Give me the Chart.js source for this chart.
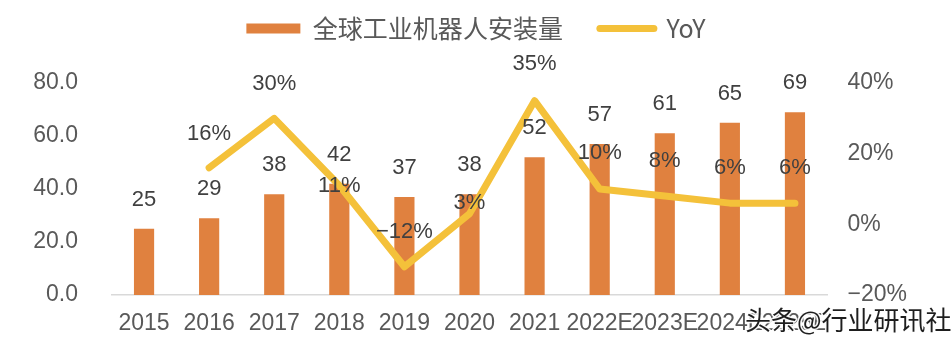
<!DOCTYPE html>
<html>
<head>
<meta charset="utf-8">
<script src="https://cdn.jsdelivr.net/npm/chart.js@4/dist/chart.umd.min.js"></script>
<style>
  html, body { margin: 0; padding: 0; background: #ffffff; }
  #wrap { width: 952px; height: 345px; position: relative; }
</style>
</head>
<body>
<div id="wrap"><canvas id="c" width="952" height="345"></canvas></div>
<script>
// ---- data ----
const categories = ['2015','2016','2017','2018','2019','2020','2021','2022E','2023E','2024E','2025E'];
const installs = [25, 29, 38, 42, 37, 38, 52, 57, 61, 65, 69];
const yoyPct = [null, 16, 30, 11, -12, 3, 35, 10, 8, 6, 6];
const leftTicks = [0, 20, 40, 60, 80];
const rightTicks = [-20, 0, 20, 40];
const seriesNames = ['全球工业机器人安装量', 'YoY'];
const watermark = '头条@行业研讯社';

// ---- style ----
const BAR_COLOR = '#E0813F';
const LINE_COLOR = '#F4C13A';
const TICK_COLOR = '#595959';
const LABEL_COLOR = '#404040';
const yoyLabelLift = [0, 34, 34, 0, 35, 11, 37, 36, 35, 35, 35];

const fmtPct = v => (v < 0 ? '\u2212' : '') + Math.abs(v) + '%';

const labelPlugin = {
  id: 'valueLabels',
  afterDatasetsDraw(chart) {
    const ctx = chart.ctx;
    ctx.save();
    ctx.font = '22px "Liberation Sans", Arial, sans-serif';
    ctx.fillStyle = LABEL_COLOR;
    ctx.textAlign = 'center';
    ctx.textBaseline = 'middle';
    const barMeta = chart.getDatasetMeta(0);
    barMeta.data.forEach((el, i) => {
      ctx.fillText(String(installs[i]), el.x, el.y - 29);
    });
    const lineMeta = chart.getDatasetMeta(1);
    lineMeta.data.forEach((el, i) => {
      if (yoyPct[i] === null) return;
      ctx.fillText(fmtPct(yoyPct[i]), el.x, el.y - yoyLabelLift[i]);
    });
    ctx.restore();
  },
  afterDraw(chart) {
    const ctx = chart.ctx;
    ctx.save();
    ctx.font = '26px "Noto Sans CJK SC", sans-serif';
    ctx.textAlign = 'left';
    ctx.textBaseline = 'middle';
    ctx.lineWidth = 3;
    ctx.strokeStyle = 'rgba(255,255,255,0.9)';
    ctx.lineJoin = 'round';
    ctx.strokeText(watermark, 745, 320);
    ctx.fillStyle = '#1e1e1e';
    ctx.fillText(watermark, 745, 320);
    ctx.restore();
  }
};

new Chart(document.getElementById('c'), {
  data: {
    labels: categories,
    datasets: [
      {
        type: 'bar',
        label: seriesNames[0],
        data: installs,
        backgroundColor: BAR_COLOR,
        yAxisID: 'y',
        barPercentage: 0.31,
        categoryPercentage: 1.0,
        order: 1
      },
      {
        type: 'line',
        label: seriesNames[1],
        data: yoyPct,
        borderColor: LINE_COLOR,
        backgroundColor: LINE_COLOR,
        borderWidth: 7,
        borderCapStyle: 'round',
        borderJoinStyle: 'round',
        pointRadius: 0,
        tension: 0,
        yAxisID: 'y1',
        order: 0
      }
    ]
  },
  options: {
    responsive: false,
    animation: false,
    devicePixelRatio: 1,
    layout: { padding: { top: -21, left: 0, right: 0, bottom: 0 } },
    plugins: {
      tooltip: { enabled: false },
      title: {
        display: true,
        text: '',
        position: 'top',
        weight: 500,
        padding: { top: 22, bottom: 0 },
        font: { size: 10, lineHeight: 1 }
      },
      legend: {
        position: 'top',
        labels: {
          padding: 37,
          usePointStyle: true,
          pointStyleWidth: 54,
          boxHeight: 10,
          color: TICK_COLOR,
          font: { family: '"Noto Sans CJK SC", sans-serif', size: 25 },
          generateLabels(chart) {
            return [
              { text: seriesNames[0], fillStyle: BAR_COLOR, strokeStyle: BAR_COLOR, lineWidth: 0,
                pointStyle: 'rect', fontColor: TICK_COLOR, datasetIndex: 0, hidden: false },
              { text: seriesNames[1], fillStyle: LINE_COLOR, strokeStyle: LINE_COLOR, lineWidth: 7,
                lineCap: 'round', pointStyle: 'line', fontColor: TICK_COLOR, datasetIndex: 1, hidden: false }
            ];
          }
        }
      }
    },
    scales: {
      x: {
        offset: true,
        grid: { display: false, drawTicks: false },
        border: { display: true, color: '#D9D9D9', width: 1.5 },
        ticks: {
          autoSkip: false, maxRotation: 0, minRotation: 0, padding: 15,
          color: TICK_COLOR,
          font: { family: '"Liberation Sans", Arial, sans-serif', size: 23 }
        },
        afterFit(s) { s.height = 50; }
      },
      y: {
        position: 'left',
        min: leftTicks[0], max: leftTicks[leftTicks.length - 1],
        grid: { display: false, drawTicks: false },
        border: { display: false },
        afterBuildTicks(s) { s.ticks = leftTicks.map(v => ({ value: v })); },
        ticks: {
          padding: 33.5,
          color: TICK_COLOR,
          font: { family: '"Liberation Sans", Arial, sans-serif', size: 23 },
          callback: v => v.toFixed(1)
        },
        afterFit(s) { s.width = 111.5; }
      },
      y1: {
        position: 'right',
        min: rightTicks[0], max: rightTicks[rightTicks.length - 1],
        grid: { display: false, drawTicks: false },
        border: { display: false },
        afterBuildTicks(s) { s.ticks = rightTicks.map(v => ({ value: v })); },
        ticks: {
          padding: 20,
          color: TICK_COLOR,
          font: { family: '"Liberation Sans", Arial, sans-serif', size: 23 },
          callback: v => fmtPct(v)
        },
        afterFit(s) { s.width = 124.5; }
      }
    }
  },
  plugins: [labelPlugin]
});
</script>
</body>
</html>
